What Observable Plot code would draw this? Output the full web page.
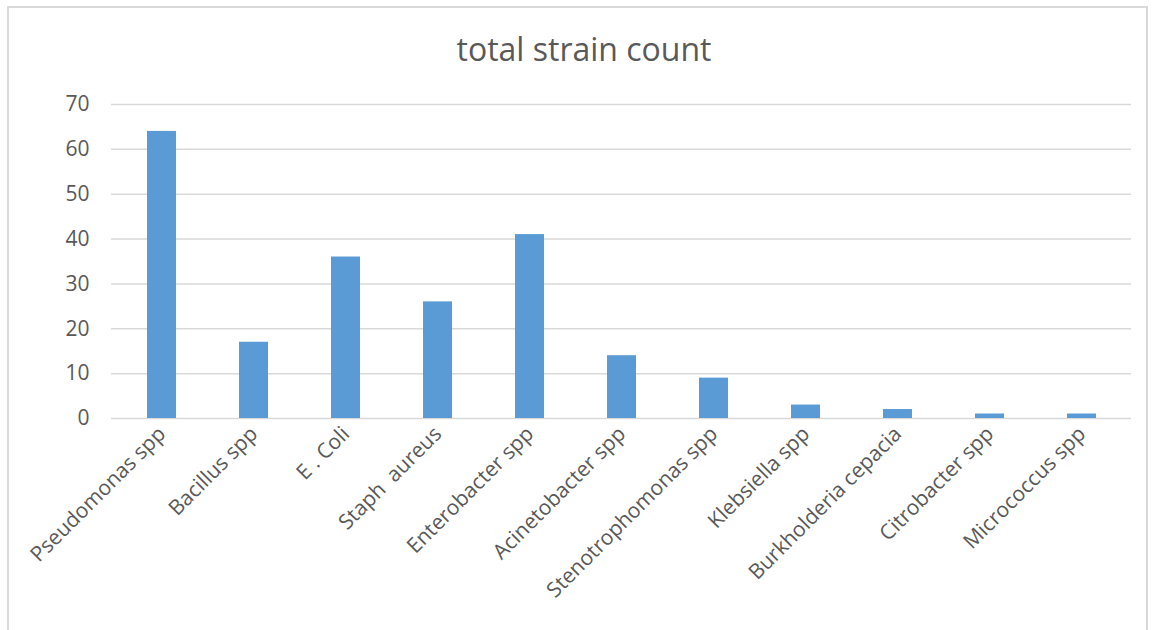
<!DOCTYPE html>
<html>
<head>
<meta charset="utf-8">
<script src="https://cdn.jsdelivr.net/npm/d3@7"></script>
<script src="https://cdn.jsdelivr.net/npm/@observablehq/plot@0.6"></script>
<style>
  body { margin: 0; background: #fff; font-family: "Open Sans", sans-serif; }
  #wrap { position: relative; width: 1156px; height: 630px; overflow: hidden; background: #fff; }
  #frame { position: absolute; left: 7px; top: 6px; width: 1141px; height: 640px; border: 2px solid #d9d9d9; box-sizing: border-box; }
  #title { position: absolute; left: 0; width: 1168px; top: 27px; text-align: center; font-size: 32px; color: #595959; font-family: "Open Sans", sans-serif; }
  #chart { position: absolute; left: 0; top: 60px; }
</style>
</head>
<body>
<div id="wrap">
  <div id="frame"></div>
  <div id="title">total strain count</div>
  <div id="chart"></div>
</div>
<script>
const categories = ["Pseudomonas spp", "Bacillus spp", "E . Coli", "Staph  aureus", "Enterobacter spp", "Acinetobacter spp", "Stenotrophomonas spp", "Klebsiella spp", "Burkholderia cepacia", "Citrobacter spp", "Micrococcus spp"];
const counts = [64, 17, 36, 26, 41, 14, 9, 3, 2, 1, 1];
const yTicks = [0, 10, 20, 30, 40, 50, 60, 70];

const data = categories.map((c, i) => ({category: c, count: counts[i]}));

const plot = Plot.plot({
  width: 1156,
  height: 570,
  marginLeft: 111,
  marginRight: 25,
  marginTop: 44,
  marginBottom: 212,
  style: {fontFamily: "Open Sans, sans-serif", background: "transparent"},
  x: {domain: categories, paddingInner: 0.69, paddingOuter: 0.345, label: null},
  y: {domain: [0, 70], label: null},
  marks: [
    Plot.ruleY(yTicks, {stroke: "#d9d9d9", strokeWidth: 1.5}),
    Plot.barY(data, {x: "category", y: "count", fill: "#5b9bd5"}),
    Plot.axisY({ticks: yTicks, tickSize: 0, tickPadding: 22, fontSize: 21, color: "#595959", label: null}),
    Plot.axisX({tickSize: 0, tickRotate: -45, tickPadding: 12, fontSize: 21, color: "#595959", label: null})
  ]
});
document.getElementById("chart").appendChild(plot);
</script>
</body>
</html>
